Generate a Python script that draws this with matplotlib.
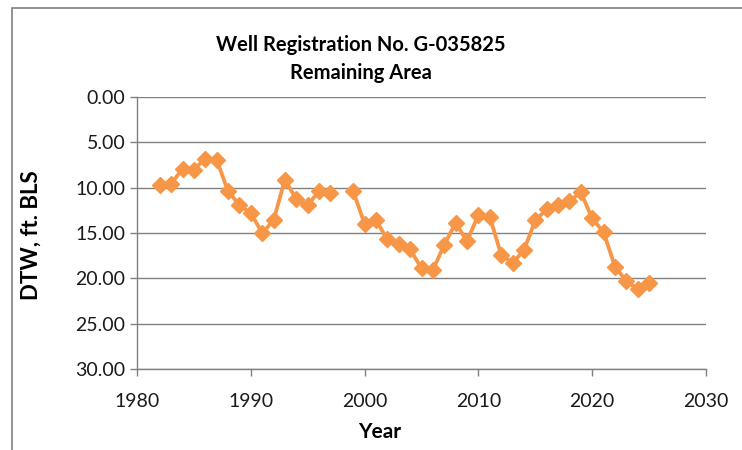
import numpy as np
import matplotlib.pyplot as plt
from matplotlib.patches import Rectangle

# depth to water readings, ft below land surface (1998 missing)
years = [1982, 1983, 1984, 1985, 1986, 1987, 1988, 1989, 1990, 1991,
         1992, 1993, 1994, 1995, 1996, 1997, 1998, 1999, 2000, 2001,
         2002, 2003, 2004, 2005, 2006, 2007, 2008, 2009, 2010, 2011,
         2012, 2013, 2014, 2015, 2016, 2017, 2018, 2019, 2020, 2021,
         2022, 2023, 2024, 2025]
dtw = [9.7, 9.6, 7.9, 8.0, 6.8, 6.9, 10.4, 11.9, 12.8, 15.0,
       13.6, 9.1, 11.3, 11.9, 10.4, 10.6, np.nan, 10.4, 14.0, 13.6,
       15.7, 16.2, 16.8, 18.9, 19.1, 16.3, 13.9, 15.9, 13.0, 13.2,
       17.4, 18.3, 16.9, 13.6, 12.4, 11.9, 11.5, 10.5, 13.4, 14.9,
       18.7, 20.3, 21.2, 20.5]

x_ticks = [1980, 1990, 2000, 2010, 2020, 2030]
y_ticks = [0, 5, 10, 15, 20, 25, 30]

plt.rcParams['font.family'] = ['Lato', 'DejaVu Sans']

fig = plt.figure(figsize=(7.42, 4.5), dpi=100)
ax = fig.add_axes([137 / 742, 1 - 369 / 450, (706 - 137) / 742, (369 - 97) / 450])

# outer chart border (only top/left visible in the crop)
fig.patches.append(Rectangle((12 / 742, -0.1), 1.2, 1 - 8 / 450 + 0.1,
                             transform=fig.transFigure, fill=False,
                             edgecolor='#808080', linewidth=1.2))

ax.plot(years, dtw, color='#F79646', linewidth=2.75, marker='D',
        markersize=8, markeredgecolor='#F79646', zorder=3)

ax.set_xlim(1980, 2030)
ax.set_ylim(30, 0)
ax.set_xticks(x_ticks)
ax.set_yticks(y_ticks)
ax.set_yticklabels(['%.2f' % v for v in y_ticks])
ax.grid(axis='y', color='#808080', linewidth=1)
ax.set_axisbelow(True)

for s in ['top', 'right']:
    ax.spines[s].set_visible(False)
for s in ['left', 'bottom']:
    ax.spines[s].set_color('#808080')
    ax.spines[s].set_linewidth(1)
ax.tick_params(colors='#808080', labelcolor='#1a1a1a', labelsize=14,
               length=5, width=1)
ax.tick_params(axis='x', pad=12)

ax.set_xlabel('Year', fontsize=15, fontweight='bold')
ax.xaxis.set_label_coords((380 - 137) / (706 - 137), -(422 - 369) / (369 - 97))
ax.set_ylabel('DTW, ft. BLS', fontsize=16, fontweight='bold')
ax.yaxis.set_label_coords(-(137 - 42) / (706 - 137), (369 - 235) / (369 - 97))
fig.text(361 / 742, 1 - 45 / 450, 'Well Registration No. G-035825',
         ha='center', va='center', fontsize=14.5, fontweight='bold')
fig.text(361 / 742, 1 - 73 / 450, 'Remaining Area',
         ha='center', va='center', fontsize=14.5, fontweight='bold')

fig.savefig('out.png', dpi=100)
